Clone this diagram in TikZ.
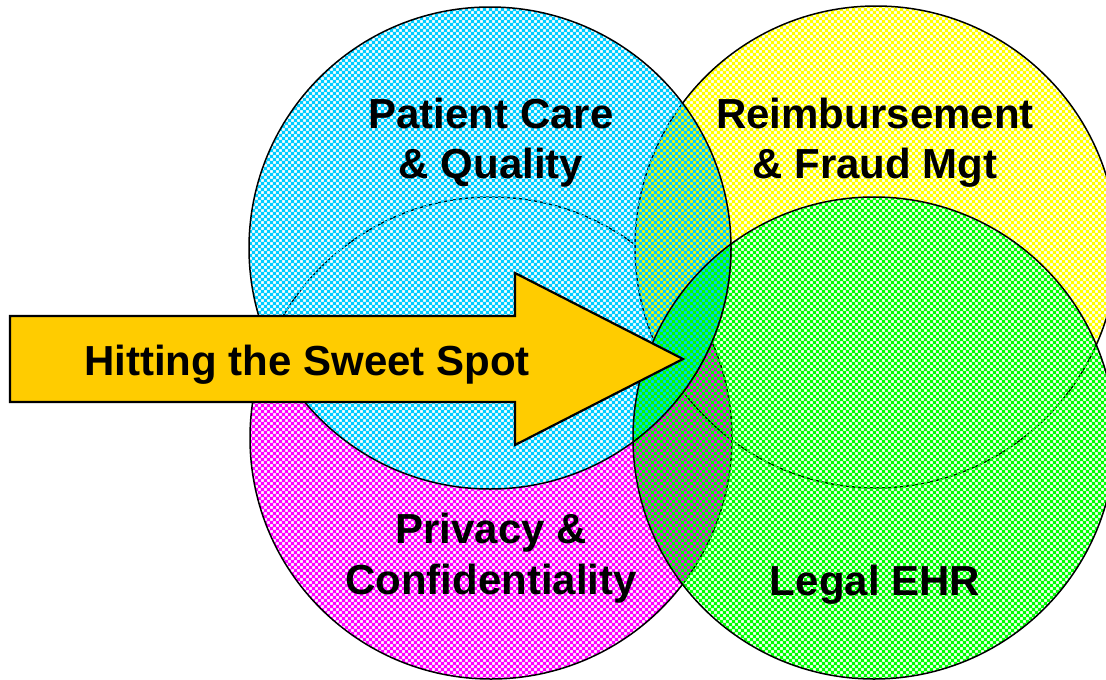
\documentclass[tikz,border=0pt]{standalone}
\usepackage{fontspec}
\setmainfont{Liberation Sans}
\usetikzlibrary{patterns}
\definecolor{cblue}{RGB}{0,204,255}
\definecolor{cyellow}{RGB}{255,255,0}
\definecolor{cmagenta}{RGB}{255,0,255}
\definecolor{cgreen}{RGB}{0,255,0}
\definecolor{carrow}{RGB}{255,204,0}
\pgfdeclarepatternformonly{checkA}{\pgfqpoint{-0.15pt}{-0.15pt}}{\pgfqpoint{6.15pt}{6.15pt}}{\pgfqpoint{6pt}{6pt}}{%
  \pgfpathrectangle{\pgfqpoint{-0.15pt}{-0.15pt}}{\pgfqpoint{3.3pt}{3.3pt}}%
  \pgfpathrectangle{\pgfqpoint{2.85pt}{2.85pt}}{\pgfqpoint{3.3pt}{3.3pt}}%
  \pgfusepath{fill}}
\pgfdeclarepatternformonly{checkB}{\pgfqpoint{-0.15pt}{-0.15pt}}{\pgfqpoint{6.15pt}{6.15pt}}{\pgfqpoint{6pt}{6pt}}{%
  \pgfpathrectangle{\pgfqpoint{2.85pt}{-0.15pt}}{\pgfqpoint{3.3pt}{3.3pt}}%
  \pgfpathrectangle{\pgfqpoint{-0.15pt}{2.85pt}}{\pgfqpoint{3.3pt}{3.3pt}}%
  \pgfusepath{fill}}
\begin{document}
\begin{tikzpicture}[x=1pt,y=-1pt,
  ringline/.style={draw=black,line width=1.5pt},
  lbl/.style={anchor=base,font=\fontsize{42}{50}\selectfont\bfseries,inner sep=0pt}]
\useasboundingbox (0,0) rectangle (1106,680);
\def\R{241}
\coordinate (cm) at (491,438);
\coordinate (cy) at (876,247);
\coordinate (cb) at (490,248);
\coordinate (cg) at (874,438);
% magenta (under blue)
\begin{scope}[even odd rule]
  \clip (-20,-20) rectangle (1200,760) (cb) circle[radius=\R];
  \fill[pattern=checkA,pattern color=cmagenta] (cm) circle[radius=\R];
\end{scope}
\draw[ringline] (cm) circle[radius=\R];
% yellow (under green)
\begin{scope}[even odd rule]
  \clip (-20,-20) rectangle (1200,760) (cg) circle[radius=\R];
  \fill[pattern=checkB,pattern color=cyellow] (cy) circle[radius=\R];
\end{scope}
\draw[ringline] (cy) circle[radius=\R];
% blue
\fill[pattern=checkA,pattern color=cblue] (cb) circle[radius=\R];
\draw[ringline] (cb) circle[radius=\R];
% green
\fill[pattern=checkB,pattern color=cgreen] (cg) circle[radius=\R];
\draw[ringline] (cg) circle[radius=\R];
% blue outline inside green stays solid
\begin{scope}
  \clip (cg) circle[radius=\R];
  \draw[ringline] (cb) circle[radius=\R];
\end{scope}
% labels
\node[lbl] (pc1) at (491,128) {Patient Care};
\node[lbl] (pc2) at (491,178) {\& Quality};
\node[lbl] (rf1) at (875,128) {Reimbursement};
\node[lbl] (rf2) at (875,178) {\& Fraud Mgt};
\node[lbl] (pv1) at (491,543) {Privacy \&};
\node[lbl] (pv2) at (491,594) {Confidentiality};
\node[lbl] (leg) at (875,595) {Legal EHR};
% arrow
\draw[line width=2.2pt,fill=carrow,line join=miter]
  (10,316) -- (515,316) -- (515,273) -- (683,359) -- (515,445) -- (515,402) -- (10,402) -- cycle;
\node[lbl] (hit) at (307,375) {Hitting the Sweet Spot};
\end{tikzpicture}
\end{document}
